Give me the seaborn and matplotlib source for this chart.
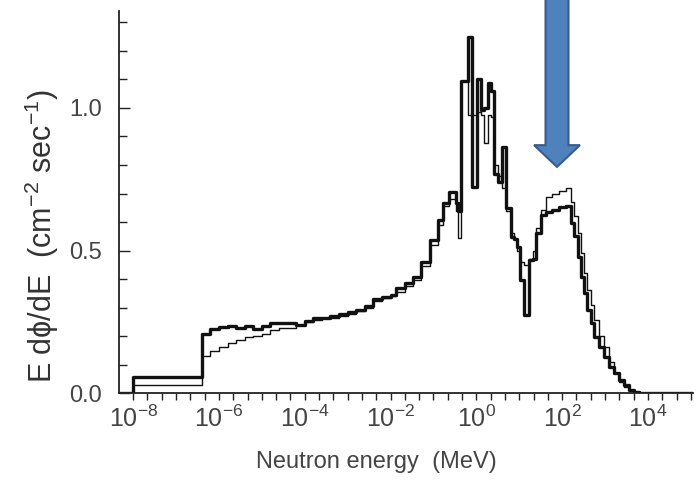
import numpy as np
import pandas as pd
import matplotlib
matplotlib.use("Agg")
import matplotlib.pyplot as plt
import seaborn as sns
from matplotlib.patches import Polygon
from matplotlib.ticker import FixedLocator, NullFormatter

# ---- data (log10 of energy bin edges in MeV, and per-bin values) ----
log_edges = [-8.33, -8.0, -6.4, -6.2, -6.0, -5.8, -5.6, -5.4, -5.2, -5.0,
             -4.8, -4.6, -4.4, -4.2, -4.0, -3.8, -3.6, -3.4, -3.2, -3.0,
             -2.8, -2.6, -2.4, -2.2, -2.0, -1.87, -1.67, -1.48, -1.29, -1.09,
             -0.90, -0.78, -0.63, -0.47, -0.42, -0.36, -0.19, -0.09, 0.02, 0.10,
             0.18, 0.26, 0.34, 0.42, 0.50, 0.60, 0.70, 0.80, 0.88, 0.95,
             1.02, 1.12, 1.23, 1.32, 1.40, 1.50, 1.62, 1.77, 1.93, 2.09,
             2.20, 2.28, 2.36, 2.43, 2.51, 2.59, 2.67, 2.74, 2.86, 2.98,
             3.09, 3.21, 3.33, 3.44, 3.56, 3.67, 3.80, 4.0, 5.05]

thick_vals = [0.0, 0.056, 0.207, 0.224, 0.233, 0.236, 0.230, 0.236, 0.226, 0.236,
              0.247, 0.247, 0.246, 0.240, 0.252, 0.262, 0.263, 0.270, 0.276, 0.285,
              0.292, 0.305, 0.330, 0.338, 0.345, 0.368, 0.386, 0.408, 0.461, 0.537,
              0.607, 0.666, 0.706, 0.666, 0.640, 1.095, 1.250, 0.724, 1.100, 0.993,
              1.000, 1.088, 1.060, 0.770, 0.740, 0.864, 0.650, 0.547, 0.540, 0.513,
              0.396, 0.274, 0.467, 0.470, 0.560, 0.625, 0.635, 0.642, 0.654, 0.656,
              0.596, 0.550, 0.478, 0.408, 0.350, 0.291, 0.245, 0.198, 0.162, 0.127,
              0.092, 0.069, 0.046, 0.028, 0.011, 0.005, 0.002, 0.0]

thin_vals = [0.0, 0.028, 0.130, 0.148, 0.162, 0.177, 0.186, 0.198, 0.200, 0.209,
             0.221, 0.228, 0.229, 0.240, 0.250, 0.258, 0.262, 0.264, 0.270, 0.278,
             0.288, 0.300, 0.322, 0.332, 0.340, 0.356, 0.374, 0.396, 0.445, 0.520,
             0.590, 0.655, 0.680, 0.640, 0.544, 1.095, 0.975, 0.975, 0.985, 0.975,
             0.877, 0.975, 0.970, 0.800, 0.760, 0.720, 0.640, 0.560, 0.540, 0.500,
             0.460, 0.450, 0.470, 0.500, 0.580, 0.642, 0.689, 0.700, 0.710, 0.718,
             0.670, 0.620, 0.560, 0.490, 0.420, 0.360, 0.310, 0.255, 0.200, 0.160,
             0.110, 0.070, 0.040, 0.020, 0.010, 0.005, 0.002, 0.0]

x_tick_exponents = [-8, -6, -4, -2, 0, 2, 4]
y_tick_labels = ["0.0", "0.5", "1.0"]

# ---- styling ----
sns.set_style("ticks")
plt.rcParams["font.family"] = ["Liberation Sans", "DejaVu Sans"]
plt.rcParams["mathtext.fontset"] = "custom"
plt.rcParams["mathtext.rm"] = "Liberation Sans"
plt.rcParams["mathtext.it"] = "Liberation Sans:italic"
plt.rcParams["mathtext.bf"] = "Liberation Sans:bold"

df = pd.DataFrame({
    "E": 10.0 ** np.array(log_edges),
    "thick": thick_vals + [thick_vals[-1]],
    "thin": thin_vals + [thin_vals[-1]],
})

fig = plt.figure(figsize=(7.0, 4.8), dpi=100)
ax = fig.add_axes([0.17, 0.181, 0.82, 0.796])

sns.lineplot(data=df, x="E", y="thin", ax=ax, drawstyle="steps-post",
             color="#111111", lw=1.0, estimator=None, sort=False)
sns.lineplot(data=df, x="E", y="thick", ax=ax, drawstyle="steps-post",
             color="#111111", lw=2.4, estimator=None, sort=False)

xmin_log, xmax_log = -8.33, 5.05
ymax = 1.34
ax.set_xscale("log")
ax.set_xlim(10 ** xmin_log, 10 ** xmax_log)
ax.set_ylim(0, ymax)

for s in ["top", "right"]:
    ax.spines[s].set_visible(False)
for s in ["left", "bottom"]:
    ax.spines[s].set_color("#222222")
    ax.spines[s].set_linewidth(1.3)

# x ticks: labelled every 2 decades, minor every 1/3 decade
ax.xaxis.set_major_locator(FixedLocator([10.0 ** k for k in x_tick_exponents]))
ax.set_xticklabels([f"$\\mathregular{{10^{{{k}}}}}$" for k in x_tick_exponents])
minor_x = [10.0 ** (k / 3.0) for k in range(-25, 16) if k % 3 != 0 or (k // 3) % 2 != 0]
ax.xaxis.set_minor_locator(FixedLocator(minor_x))
ax.xaxis.set_minor_formatter(NullFormatter())
ax.tick_params(axis="x", which="both", direction="out", length=5, width=1.0,
               colors="#222222", labelsize=18, pad=4, labelcolor="#444444")

# y ticks
ax.set_yticks([0.0, 0.5, 1.0])
ax.set_yticklabels(y_tick_labels)
ax.yaxis.set_minor_locator(FixedLocator([0.1, 0.2, 0.3, 0.4, 0.6, 0.7, 0.8, 0.9, 1.1, 1.2, 1.3]))
ax.tick_params(axis="y", which="major", direction="in", length=8, width=1.0,
               colors="#222222", labelsize=17, pad=12, labelcolor="#444444")
ax.tick_params(axis="y", which="minor", direction="in", length=6, width=1.0,
               colors="#222222")

ax.set_xlabel("Neutron energy  (MeV)", fontsize=17, color="#444444")
ax.xaxis.set_label_coords(0.448, -0.18)
ax.xaxis.label.set_va("center")
ax.set_ylabel("E d\u03d5/dE  (cm$^{-2}$ sec$^{-1}$)", fontsize=22, color="#333333")
ax.yaxis.set_label_coords(-0.134, 0.41)
ax.yaxis.label.set_va("center")

# ---- blue arrow pointing at the high-energy peak ----
arrow_x_log = 1.88
cx = (arrow_x_log - xmin_log) / (xmax_log - xmin_log)
shaft_hw = 0.020
head_hw = 0.040
y_top = 1.06
y_head = 0.649
y_tip = 0.592
pts = [(cx - shaft_hw, y_top), (cx + shaft_hw, y_top), (cx + shaft_hw, y_head),
       (cx + head_hw, y_head), (cx, y_tip), (cx - head_hw, y_head),
       (cx - shaft_hw, y_head)]
arrow = Polygon(pts, closed=True, transform=ax.transAxes, clip_on=False,
                facecolor="#4F81BD", edgecolor="#385D8A", lw=1.5, zorder=5)
ax.add_patch(arrow)

fig.savefig("out.png", dpi=100)
